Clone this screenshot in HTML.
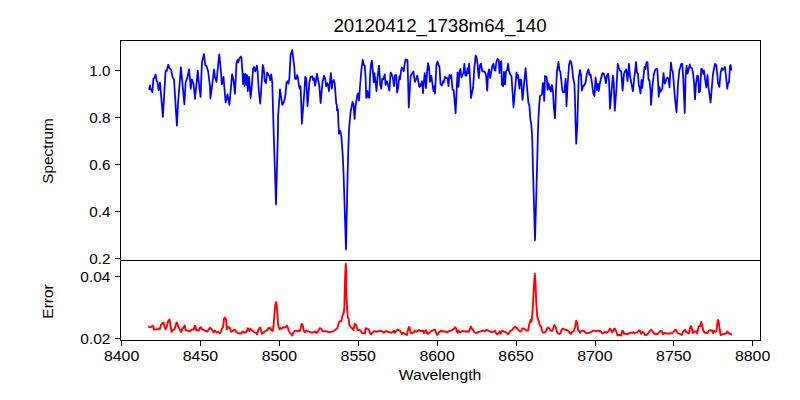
<!DOCTYPE html>
<html><head><meta charset="utf-8"><style>
html,body{margin:0;padding:0;background:#fff;}
svg{display:block;}
.t{font-family:"Liberation Sans",sans-serif;font-size:14px;fill:#000;}
</style></head><body>
<svg width="800" height="400" viewBox="0 0 800 400">
<rect width="800" height="400" fill="#fff"/>
<g id="curves">
<!--BLUE--><polyline id="blue" points="149.2,89.2 149.9,85.3 150.5,88.5 152.4,92.2 153.4,78.75 154.4,78.1 155.5,74.4 156.6,80.6 157.5,82.5 158.6,90.3 160,82.5 162.9,116.9 165.6,70.6 166.6,71.25 168.25,64.75 169.4,68.1 171,69.75 172.75,77.75 174,79.4 176.9,125.6 178.1,102.5 180.9,67.25 184.4,104.4 185.6,82.5 187.25,78.1 189,69.4 190,78.75 190.75,89 191.9,79.4 193.5,83.75 195,99 197.75,70.6 198.75,82.5 200.6,96.9 201.9,62.5 204,54 205.25,65 206.6,66.25 208.1,71.25 210,86.25 210.4,98.75 212.5,82.5 214,69.4 215,76.9 216.5,81.9 217.5,71.25 219.25,54.4 220.6,67.5 221.9,84.4 223.5,76.9 225.6,102.5 227.5,94.4 229.4,105 232.1,74.4 233.5,80 235,93.75 236.5,63 237.5,60 238.1,62.5 238.6,61 239.5,58.5 240.8,56.5 241.5,58 242.5,73 243,84 244,74 244.5,86 245.5,74 246.2,85 247,75 247.75,91.25 249,76.9 250.6,98.1 251.9,85 253.1,68.75 254.1,66.9 255.25,71.25 256.9,65.6 257.5,70 258.75,90 260.25,103.75 262.75,65 263.75,68.75 264.75,81.25 266,83.1 267.1,72.5 268.5,75 269.5,76.25 270.25,80 271.25,74.4 272.25,82.5 273.6,130 276,204.4 278,130 278.1,116.25 279.75,93.75 280,89.4 282.25,105 283.75,102.5 284.75,98.75 285.6,93.75 286.5,82.5 287.5,81.25 288.5,83.75 289.4,77.5 290.6,55 292.25,50 293.1,57.5 294.4,67.5 295,78.75 296.25,78.75 297.25,75 298.1,78.75 299,86.25 299.75,88.75 300.6,86.25 301.9,123.75 304.4,91.25 305.25,76.9 306.25,78.75 307.5,106.25 309.4,82.5 310.6,76.9 312.25,76.25 313.1,80 314,78.1 315,85.6 315.9,81.25 317,73.75 318.1,80 319.4,86.25 320.6,103.1 322.5,82.5 324,75.6 325,78.1 326.25,86.25 327.25,83.1 328.1,85 329,91.25 330,81.25 330.9,73.1 331.9,88.75 332.75,81.25 333.75,80 334.75,83.75 336.25,103.75 336.9,105 337,110.3 337.9,109.4 338.4,122.5 339,133.8 340.3,131 341.3,135.6 342.8,156.3 343.6,175 346,249.4 347.6,175 348.4,146.9 349.1,128 350.6,112 352.5,102 353.5,104 354.6,119 355.6,106 357.5,94 358.1,93.5 359,100.6 360,86.25 361.5,68.75 362.75,59.75 363.75,65 364.75,65.6 365.6,77.5 366.25,98 367.5,91 368.4,97.5 369.4,97.5 370,76.25 370.9,65 371.9,60.6 372.75,70 373.75,82.5 374.4,73.1 375.6,82.5 376.5,91.25 377.5,77.5 379,65.6 379.75,76.25 380.25,85 381.25,88.75 382.25,78.75 383.1,79.4 384.75,74.4 385.6,85 386.9,81.25 388.1,85 389.4,90.6 390.6,72.5 391.9,75 392.75,77.5 394,86.25 395,75 396.25,75 397.1,92.5 398.1,87.5 399.4,76.25 400,79.4 401,71.25 401.9,67.5 402.9,68.75 403.75,71.25 404.75,63.75 405.6,59.4 406.9,60.6 407.5,60 408.75,107.5 410.6,76.25 411.9,73.75 413.4,71.5 414,76.25 415,81.9 416.25,78.75 417.25,75.6 418.1,80 419.4,86.9 420.6,85.6 421.9,81.25 423,93.1 423.75,82.5 424.75,73.1 426,88.1 427.1,71.9 428.1,63.1 429,67.5 430,81.9 431.25,75.6 432.5,84.4 433.5,91.25 434.4,86.25 435,93.75 436.4,65 437.5,61.6 438.5,65 439.5,67 440.5,84 441.9,85.6 443.1,81.25 443.75,82.5 445,76.9 446.25,78.1 447.5,78.1 448.5,86.25 449.4,75 450.25,78.1 451.25,75 452.5,89.4 453.75,90.5 455.6,113.1 457.5,72.5 458.5,86.9 459.4,72.5 460.4,68.75 461.5,77.5 462.5,75 463.4,73.1 464.4,63.75 465.4,75.6 466.5,75.6 467.5,68.1 468.1,73.1 469.1,63.75 470,77.5 471,98.1 473.1,87.5 474.4,67.5 475.6,55.6 476.5,56.9 477.5,63.75 478.75,78.1 480,65 481,63.75 482.25,71.25 483.5,71.25 484.75,71.9 486,75 487.25,90.6 488.1,73.75 489,69.4 490.25,78.1 491.25,71.9 492.25,66.25 493.5,63.75 494.4,70 495.4,70.6 496.25,62.5 497.5,58.75 498.75,60 499.5,73.1 500.25,61.9 501.25,61.25 501.9,85 503.1,86.25 504,71.9 505,84.4 506,71.25 507.1,70 508.1,63.75 509.1,71.25 510.25,74.4 511.5,76.25 513.5,107.5 516.5,72.5 517.5,77.5 518.1,75 519.4,88.75 520.4,79.4 521.25,80 522.5,100 523.5,90 525.6,68.1 527.5,92.5 528.4,102.8 529.4,105.6 530.3,118.8 531.3,124.4 532.2,137.5 533,170 535,240.3 537,170 537.8,137.5 538.4,118.8 539.2,105 540,96 541,95.5 542,94 542.8,83 543.5,84 544.2,101 545,76 546,76.5 546.8,78 547.5,90 548,83 549,85 549.5,89.5 550.2,87 551,91.5 552,85 553,92 553.8,107 555,118.1 556,90 557,70.6 558.5,61.9 559.4,70.6 560.25,71.25 561.25,80 562.25,90 563.1,92.5 564.4,91.9 565.6,78.75 566.5,106.25 567.5,86.25 569,65 570.25,60.6 571.25,62.5 572.25,68.75 573.1,77.5 574.4,84 575,100 575.6,125 576.25,143.75 577.3,125 578,100 578.75,77.5 580,70 581,75 581.9,90.6 583.1,86.25 584.4,85 585.6,82.5 586.9,73.75 588.5,69.4 589.4,75 590.6,74.4 591.9,82.5 593.1,92.5 594.4,96.25 595.6,77.5 596.9,90 597.9,83.75 598.75,91.25 600,82.5 601.25,77.5 602.5,73.1 603.75,73.75 605,78.1 606,83.1 606.9,75.6 608.1,73.75 609,80 610,108.75 612.9,75.6 613.75,82.5 614.75,110.6 616.5,88 617.75,63.75 618.75,67.5 620,70.6 621.25,71.25 622.25,86.25 622.6,90.6 624,73.75 625,71.25 626.25,69.4 627.5,81.25 629,63.75 630,76.25 631,81.25 631.9,86.25 633,91.25 634,80 635,72 636,62 637,73 638,74 638.8,85 639.8,89 640.5,93.5 641.5,80 642.2,88 643,81 644.5,67 645.5,69 646.5,62 647.5,62 648.5,79 649.5,81 650.5,90 651,105 652.5,85.6 653.75,75 655,70 656.25,68.75 657.25,68.75 658.1,82.5 658.75,96.9 659.4,86.9 660.25,91.9 661.25,90.6 662.25,88.75 663.5,73.1 664.75,83.75 665.6,81.9 666.5,78.75 667.5,77.5 668.5,78.75 669.5,87.5 670,77.5 671,62.5 671.9,70 672.75,71.25 673.75,82.5 674.75,96.25 676.5,112.5 678.1,82.5 679.4,70 680.25,67.5 681.25,63.75 682.25,63.75 683.1,76.25 684.75,113.1 685.6,76.25 686.6,65.6 687.5,73.75 688.5,70 689.75,64.4 690.6,67.5 691.9,68.1 693.1,73.1 694,82.5 695,99.4 696,83.75 697.25,75.6 698.1,76.25 699,92.5 700,91.25 701.25,68.75 702.25,69.4 703.1,73.75 704,70.6 705,78.75 706.25,87.5 707.5,75 708.5,87.5 710.6,102.5 712.9,75 713.75,70 715,63.75 716.25,65 717.25,73.75 718.1,83.75 719.4,86.9 720.6,72.5 721.9,68.1 722.75,70 723.75,68.75 725,66.9 726,76.25 727.25,88.75 728.1,83.1 729,82.5 730,66.25 730.6,65 731.25,69.4" fill="none" stroke="#0000ff" stroke-width="1.75" stroke-linejoin="round" stroke-linecap="square"/><!--/BLUE-->
<!--RED--><polyline id="red" points="148.9,326.9 150,327.5 151.25,326.9 152.5,325.6 153.5,326.9 153.75,329.75 155.6,329.4 157.5,329.4 158.75,328.5 160,329 161,325 162.5,323.1 163.5,322.5 164.4,326.25 165.6,329.4 166.5,327.5 167.5,323.1 168.5,320.6 169.5,319.4 170.6,326.25 171.6,331.9 173.1,330 174.4,329.4 175.25,326.9 176.5,322.5 177.25,323.1 178.1,326.25 179.75,329.4 181.25,331.9 182.25,328.75 183.5,327.5 184.75,325.6 185.6,330 187.5,330.6 190,331.25 191.9,329.75 193.75,329.4 194.75,325.6 195.6,326.9 196.25,330.6 197.5,330 198.75,330.6 199.75,328.1 200.9,327.25 201.9,329.4 203.75,330 205.6,331 207.5,331.5 208.75,329.4 210,327.75 211.25,328.75 212.5,330.6 213.75,332.5 214.75,330.6 215.6,331.25 216.9,332.75 218.1,331.9 219.4,333.1 220.6,332.75 221.9,328.75 223.1,326.9 224,318.75 225,317.5 226,319.4 226.9,329.4 228.1,326.9 229.4,327.5 230.25,329.4 231.25,331.9 232.5,331.25 233.75,330 235,329.75 236.25,331.9 237.5,333.1 238.75,333.1 240,333.6 241.25,333.1 242.5,331.6 243.75,332.5 245.6,332.5 246.9,331.25 247.75,328.1 248.75,329.75 249.4,331.25 250.25,328.75 251.25,330 252.5,330.6 253.75,331.9 255,332.5 256.25,333.1 257.1,334.4 258.1,330.6 259.4,328.1 260.25,327.5 261,330 261.9,333.75 262.75,333.1 263.75,332.5 264.75,331.25 266.25,330.6 267.5,329.75 268.1,328.1 269,328.75 270,327.5 271,330 271.9,329.75 272.75,331 273.5,326.25 274.4,315 275.25,305 276,302.2 276.5,302.6 277.25,312.5 278.1,323.75 278.75,327.5 279.75,329.4 280.6,328.1 281.9,328.75 283.1,327.25 284.4,327.5 285.6,327.25 286.9,325.6 287.75,327.5 288.75,330.6 290,333.1 291.25,334.4 292.25,335.6 293.1,333.1 294.4,331.25 296,330.6 297.5,331.25 298.75,330.6 300,331 300.9,327.5 301.6,324 302.5,324.4 303.1,327.5 304,331.25 305,332.25 306.25,330.6 307.5,331.25 309.4,331.9 311.25,332.5 313.1,332.5 314.4,331.9 315.25,331.25 316.25,333.1 317.5,332.5 318.75,330 320,328.1 321.25,328.75 322.5,331.25 324.4,331.25 326.25,331.25 328.1,331.9 329.4,332.5 330.6,331.9 332.5,331.6 333.75,331 335,330 336.25,329 337.5,328.1 338.75,322.5 339.75,321.25 341.25,321.25 342.5,315.6 343.5,313.75 344.4,307.5 344.75,290 345.3,272 345.8,263.8 346.3,272 346.25,290 346.9,305 347.75,317.5 348.75,319 349.4,325 350.6,326.9 352.5,328.75 353.5,330 354.75,323.75 356.25,325 357.5,330 359,330 360.6,330.6 361.9,333.1 363.75,333.1 364.75,333.75 365.6,328.1 367.25,328.75 368.75,329.4 370,333.1 371,334.4 372.5,332.5 374.4,331 376.25,331.9 378.1,331.25 380,330.8 381.9,331.25 383.75,332.75 385.6,331.25 387.5,331.5 389.4,332.25 391.25,332.75 393.1,331.9 394,330.6 395,332.75 396.25,331 397.5,329.75 398.75,330 400,330.6 401,332.5 401.9,334 403.1,332.75 404.4,333.75 405.6,334.4 406.9,335 407.75,331.25 408.75,326.9 409.5,327.5 410.6,332.75 411.9,333.1 413.5,332.5 414.75,330.6 416,331.9 417.25,331.25 418.75,330 420.25,331 421.9,331 423.1,330.6 424,333.1 425.25,331 426.25,330.6 427.25,333.5 428.5,333.75 429.75,332.25 431.25,331.25 432.5,330.6 433.75,330 435,329.75 436,332.75 437.25,335 438.5,332.75 439.75,331.9 441,330.6 442.25,331.5 443.75,331.25 445.6,331.5 447.5,332.25 449,331.25 450.6,330.6 452.5,330 454,328.75 455,327.25 456,328.1 456.9,331.25 457.75,332.75 458.5,330.6 459.75,332.25 461,331.9 462.5,331 464,331.25 465.6,331.5 467.25,331.5 468.75,331.9 470,328.75 471,326.5 471.9,328.75 473.1,330 474.4,332.25 476,333.1 477.5,332.5 478.75,331.9 480,331.6 481.9,331 483.75,330.6 485,331.5 486.5,329.75 488.1,330.6 490,331.5 491.9,332.25 493.5,331.9 495,330.6 496.25,333.75 497.5,334.4 498.75,333.1 499.75,331.25 500.6,333.75 501.5,331.25 502.75,330.6 504,331.9 505.6,331.9 506.9,333.1 508.1,334.4 509.4,332.5 510.6,330.6 512.25,330 513.5,328.1 514.75,326.9 516.25,327.5 517.5,328.75 518.75,330.25 520.25,331.5 521.25,331.25 522.25,328.5 523.75,328.5 525.25,329.75 526.9,330.6 528.1,330.6 529.1,325 530,321.9 530.9,319.4 531.5,321.9 532.25,315 533.1,302.5 534,285 534.8,273.8 535.6,285 536.25,302.5 537.25,316.25 538.1,319.4 539,321.9 539.75,325.6 541,326.25 541.9,330 542.75,332.5 544.4,332.5 545.6,331.9 546.9,328.75 548.1,327.5 549.4,328.5 550.6,330.6 552.25,331 553.5,327.5 554.4,325 555.6,326.9 556.5,330 557.5,333.1 559.4,334 560.6,333.1 561.5,330 562.75,328.75 564.4,329.4 566.25,330 568.1,330.6 569.75,333.1 571,334 572.25,331.9 573.75,331.25 575,327.5 576.25,320.6 577.25,323.1 578.1,330 579.4,331.25 580,333 581.25,331.25 582.75,330.6 584.4,331.25 585.6,333.1 587.5,333.1 589.4,332.75 591.25,331.9 593.1,330.6 594.75,330.6 596,331.5 597.5,330.6 599.4,331 600.6,331.25 602.25,333.5 603.75,332.75 605.25,331.9 606.5,332.75 607.75,331.9 609,330.6 610,328.5 611,330 611.9,332.25 612.75,331.9 613.75,329 614.75,328.5 615.6,330 616.5,331.9 617.5,335.6 618.75,335 620,334.75 621.25,335.6 622.25,330.6 623.1,331 624,333.75 625.6,333.75 627.25,334.4 628.75,333.5 630.6,332.75 632.25,332.75 633.5,332.25 634.4,333.5 636,332.75 637.75,331.9 639.4,330.25 640,331 641.25,333.75 642.5,331.9 643.75,332.75 645,335 646.5,335 648.1,333.5 649.75,331 651.25,329.75 652.5,331.25 653.75,333.5 655.6,334 657.5,334 659,332.5 660.6,331 661.9,331.25 663.1,334.4 664.75,332.75 666.25,333.5 668.1,333.5 669.4,333.75 670.6,333.1 671.9,333.3 673.5,331.9 675,330.25 676.25,330 677.25,332.75 678.75,333.5 680.6,334.4 681.9,335 682.75,332.5 684,330.6 685,329.75 686.25,332.25 687.5,332.75 689,333.5 690,328.1 691,326 691.9,328.75 692.75,333.1 693.75,331.25 695,331.9 696.25,331.25 697.25,333.5 698.5,326.9 699.75,325.6 700.6,326.25 701.25,321.9 702.25,325.6 703.1,330 704.4,332.75 706.25,332.75 707.5,333.1 708.75,330.6 710.6,330.25 712.25,330.6 713.1,333.1 714,330.6 715.25,331.9 716.5,331 717.75,320 718.5,320.6 719.4,327.5 720.6,335 722.5,334.4 725,333.75 726.25,333.5 727.25,331.5 728.1,332.25 729.4,333.75 731.25,334.4" fill="none" stroke="#ff0000" stroke-width="1.9" stroke-linejoin="round" stroke-linecap="square"/><!--/RED-->
</g>
<g stroke="#000" stroke-width="1.1" fill="none" shape-rendering="crispEdges">
<rect x="120.5" y="40.5" width="640" height="300"/>
<line x1="120" y1="260.5" x2="761" y2="260.5"/>
<line x1="121.5" y1="340" x2="121.5" y2="345.5"/><line x1="200.5" y1="340" x2="200.5" y2="345.5"/><line x1="279.5" y1="340" x2="279.5" y2="345.5"/><line x1="358.5" y1="340" x2="358.5" y2="345.5"/><line x1="437.5" y1="340" x2="437.5" y2="345.5"/><line x1="516.5" y1="340" x2="516.5" y2="345.5"/><line x1="595.5" y1="340" x2="595.5" y2="345.5"/><line x1="673.5" y1="340" x2="673.5" y2="345.5"/><line x1="752.5" y1="340" x2="752.5" y2="345.5"/><line x1="115" y1="70.5" x2="120" y2="70.5"/><line x1="115" y1="117.5" x2="120" y2="117.5"/><line x1="115" y1="164.5" x2="120" y2="164.5"/><line x1="115" y1="211.5" x2="120" y2="211.5"/><line x1="115" y1="258.5" x2="120" y2="258.5"/><line x1="115" y1="276.5" x2="120" y2="276.5"/><line x1="115" y1="338.5" x2="120" y2="338.5"/>
</g>
<text x="121.60" y="361" text-anchor="middle" class="t" textLength="35.33" lengthAdjust="spacingAndGlyphs">8400</text><text x="200.47" y="361" text-anchor="middle" class="t" textLength="35.33" lengthAdjust="spacingAndGlyphs">8450</text><text x="279.35" y="361" text-anchor="middle" class="t" textLength="35.33" lengthAdjust="spacingAndGlyphs">8500</text><text x="358.23" y="361" text-anchor="middle" class="t" textLength="35.33" lengthAdjust="spacingAndGlyphs">8550</text><text x="437.10" y="361" text-anchor="middle" class="t" textLength="35.33" lengthAdjust="spacingAndGlyphs">8600</text><text x="515.98" y="361" text-anchor="middle" class="t" textLength="35.33" lengthAdjust="spacingAndGlyphs">8650</text><text x="594.85" y="361" text-anchor="middle" class="t" textLength="35.33" lengthAdjust="spacingAndGlyphs">8700</text><text x="673.73" y="361" text-anchor="middle" class="t" textLength="35.33" lengthAdjust="spacingAndGlyphs">8750</text><text x="752.60" y="361" text-anchor="middle" class="t" textLength="35.33" lengthAdjust="spacingAndGlyphs">8800</text><text x="110.4" y="76.0" text-anchor="end" class="t" textLength="21.2" lengthAdjust="spacingAndGlyphs">1.0</text><text x="110.4" y="123.0" text-anchor="end" class="t" textLength="21.2" lengthAdjust="spacingAndGlyphs">0.8</text><text x="110.4" y="170.0" text-anchor="end" class="t" textLength="21.2" lengthAdjust="spacingAndGlyphs">0.6</text><text x="110.4" y="217.0" text-anchor="end" class="t" textLength="21.2" lengthAdjust="spacingAndGlyphs">0.4</text><text x="110.4" y="264.0" text-anchor="end" class="t" textLength="21.2" lengthAdjust="spacingAndGlyphs">0.2</text><text x="110.4" y="282.0" text-anchor="end" class="t" textLength="30.1" lengthAdjust="spacingAndGlyphs">0.04</text><text x="110.4" y="344.0" text-anchor="end" class="t" textLength="30.1" lengthAdjust="spacingAndGlyphs">0.02</text>
<text x="440" y="32" text-anchor="middle" class="t" style="font-size:17.6px" textLength="213.1" lengthAdjust="spacingAndGlyphs">20120412_1738m64_140</text>
<text x="440" y="379.5" text-anchor="middle" class="t" textLength="82.6" lengthAdjust="spacingAndGlyphs">Wavelength</text>
<text transform="translate(52.5,151) rotate(-90)" text-anchor="middle" class="t" textLength="65.5" lengthAdjust="spacingAndGlyphs">Spectrum</text>
<text transform="translate(52.5,301.5) rotate(-90)" text-anchor="middle" class="t" textLength="34.4" lengthAdjust="spacingAndGlyphs">Error</text>
</svg>
</body></html>
